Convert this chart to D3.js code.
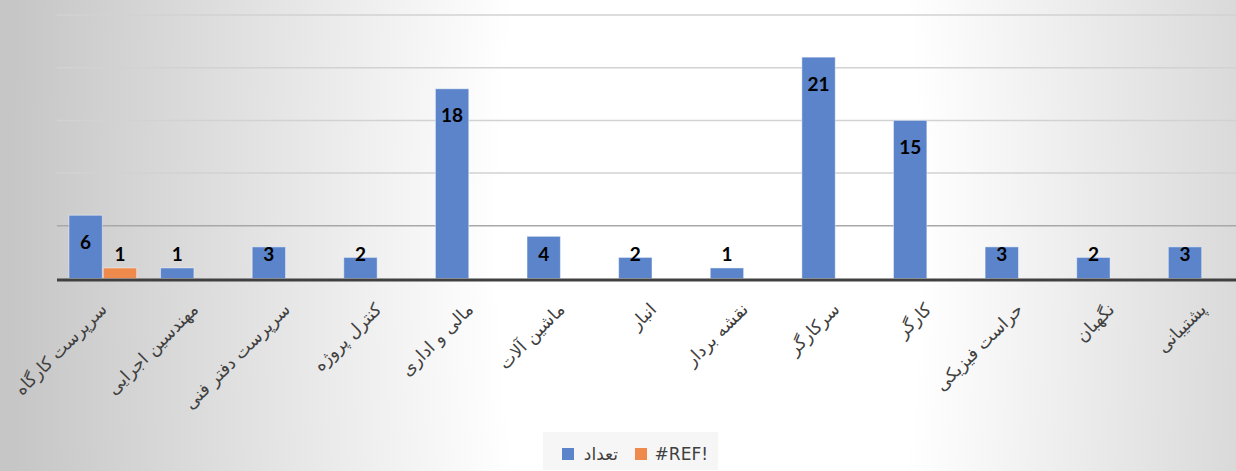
<!DOCTYPE html>
<html>
<head>
<meta charset="utf-8">
<script src="https://cdn.jsdelivr.net/npm/d3@7"></script>
<style>
  body { margin: 0; overflow: hidden; }
  svg { display: block; }
</style>
</head>
<body>
<svg id="chart"></svg>
<script>
// chart data
const categories = ['سرپرست کارگاه', 'مهندسین اجرایی', 'سرپرست دفتر فنی', 'کنترل پروژه', 'مالی و اداری', 'ماشین آلات', 'انبار', 'نقشه بردار', 'سرکارگر', 'کارگر', 'حراست فیزیکی', 'نگهبان', 'پشتیبانی']
const seriesNames = ['تعداد', '#REF!']
const countValues = [6, 1, 3, 2, 18, 4, 2, 1, 21, 15, 3, 2, 3]
const refValues = [1, null, null, null, null, null, null, null, null, null, null, null, null]
const yTicks = [0, 5, 10, 15, 20, 25]

const width = 1236
const height = 471
const colors = ['#5b84cb', '#ee8a4b']

let svg = d3.select('#chart')
  .attr('width', width)
  .attr('height', height)

// background gradient (white band in the middle, grey to the sides)
let defs = svg.append('defs')
let grad = defs.append('radialGradient')
  .attr('id', 'bg')
  .attr('gradientUnits', 'userSpaceOnUse')
  .attr('cx', 710).attr('cy', 0).attr('r', 700)
  .attr('gradientTransform', 'translate(0,235) scale(1,3)')
grad.append('stop').attr('offset', 0).attr('stop-color', '#ffffff')
grad.append('stop').attr('offset', 0.3).attr('stop-color', '#ffffff')
grad.append('stop').attr('offset', 1).attr('stop-color', '#c6c6c6')

svg.append('rect')
  .attr('width', width).attr('height', height)
  .attr('fill', 'url(#bg)')

let x = d3.scaleBand()
  .domain(categories)
  .range([57, 1248])
  .paddingInner(0.25)
  .paddingOuter(0.125)

let xInner = d3.scaleBand()
  .domain(seriesNames)
  .range([0, x.bandwidth()])

let y = d3.scaleLinear()
  .domain([0, 25])
  .range([278.5, 15])

// gridlines
svg.append('g')
  .selectAll('line')
  .data(yTicks.filter(d => d > 0))
  .enter()
  .append('line')
  .attr('x1', 57).attr('x2', width)
  .attr('y1', d => y(d)).attr('y2', d => y(d))
  .attr('stroke', d => d === 5 ? '#a8a8a8' : '#d2d2d2')
  .attr('stroke-width', 1.5)

// bars
let series = [countValues, refValues]
series.forEach(function (vals, si) {
  let data = categories.map((c, i) => ({ cat: c, v: vals[i] })).filter(d => d.v != null)
  let g = svg.append('g')
  g.selectAll('rect')
    .data(data)
    .enter()
    .append('rect')
    .attr('x', d => x(d.cat) + xInner(seriesNames[si]) + 0.5)
    .attr('width', xInner.bandwidth() - 1)
    .attr('y', d => y(d.v))
    .attr('height', d => y(0) - y(d.v))
    .attr('fill', colors[si])
    .attr('stroke', 'rgba(255,255,255,0.45)')
    .attr('stroke-width', 1)

  g.selectAll('text')
    .data(data)
    .enter()
    .append('text')
    .attr('x', d => x(d.cat) + xInner(seriesNames[si]) + xInner.bandwidth() / 2)
    .attr('y', d => Math.min(y(d.v) + 27, y(0) - 24))
    .attr('dy', '0.35em')
    .attr('text-anchor', 'middle')
    .attr('font-family', 'Lato, "Open Sans", sans-serif')
    .attr('font-weight', 'bold')
    .attr('font-size', 19)
    .attr('fill', '#000')
    .text(d => d.v)
})

// baseline
svg.append('line')
  .attr('x1', 57).attr('x2', width)
  .attr('y1', y(0) + 1.5).attr('y2', y(0) + 1.5)
  .attr('stroke', '#404040')
  .attr('stroke-width', 3)

// category axis
let xAxis = d3.axisBottom(x).tickSize(0).tickPadding(0)
let axisG = svg.append('g')
  .attr('transform', 'translate(0,' + (y(0) + 3) + ')')
  .call(xAxis)
axisG.select('.domain').remove()
axisG.selectAll('text')
  .attr('font-family', '"DejaVu Sans", sans-serif')
  .attr('font-size', 17.5)
  .attr('fill', '#404040')
  .attr('text-anchor', 'end')
  .attr('dy', null)
  .attr('y', 0)
  .attr('transform', 'translate(5,29) rotate(-45)')

// legend
let legend = svg.append('g')
legend.append('rect')
  .attr('x', 543).attr('y', 432).attr('width', 175).attr('height', 38)
  .attr('fill', '#f4f4f4').attr('opacity', 0.8)
let legendItems = [
  { name: seriesNames[0], color: colors[0], sx: 562, tx: 618 },
  { name: seriesNames[1], color: colors[1], sx: 635, tx: 708 }
]
legendItems.forEach(function (it) {
  legend.append('rect')
    .attr('x', it.sx).attr('y', 448).attr('width', 12).attr('height', 12)
    .attr('fill', it.color)
  legend.append('text')
    .attr('x', it.tx).attr('y', 454)
    .attr('dy', '0.35em')
    .attr('text-anchor', 'end')
    .attr('font-family', '"DejaVu Sans", sans-serif')
    .attr('font-size', 17)
    .attr('fill', '#404040')
    .text(it.name)
})
</script>
</body>
</html>
